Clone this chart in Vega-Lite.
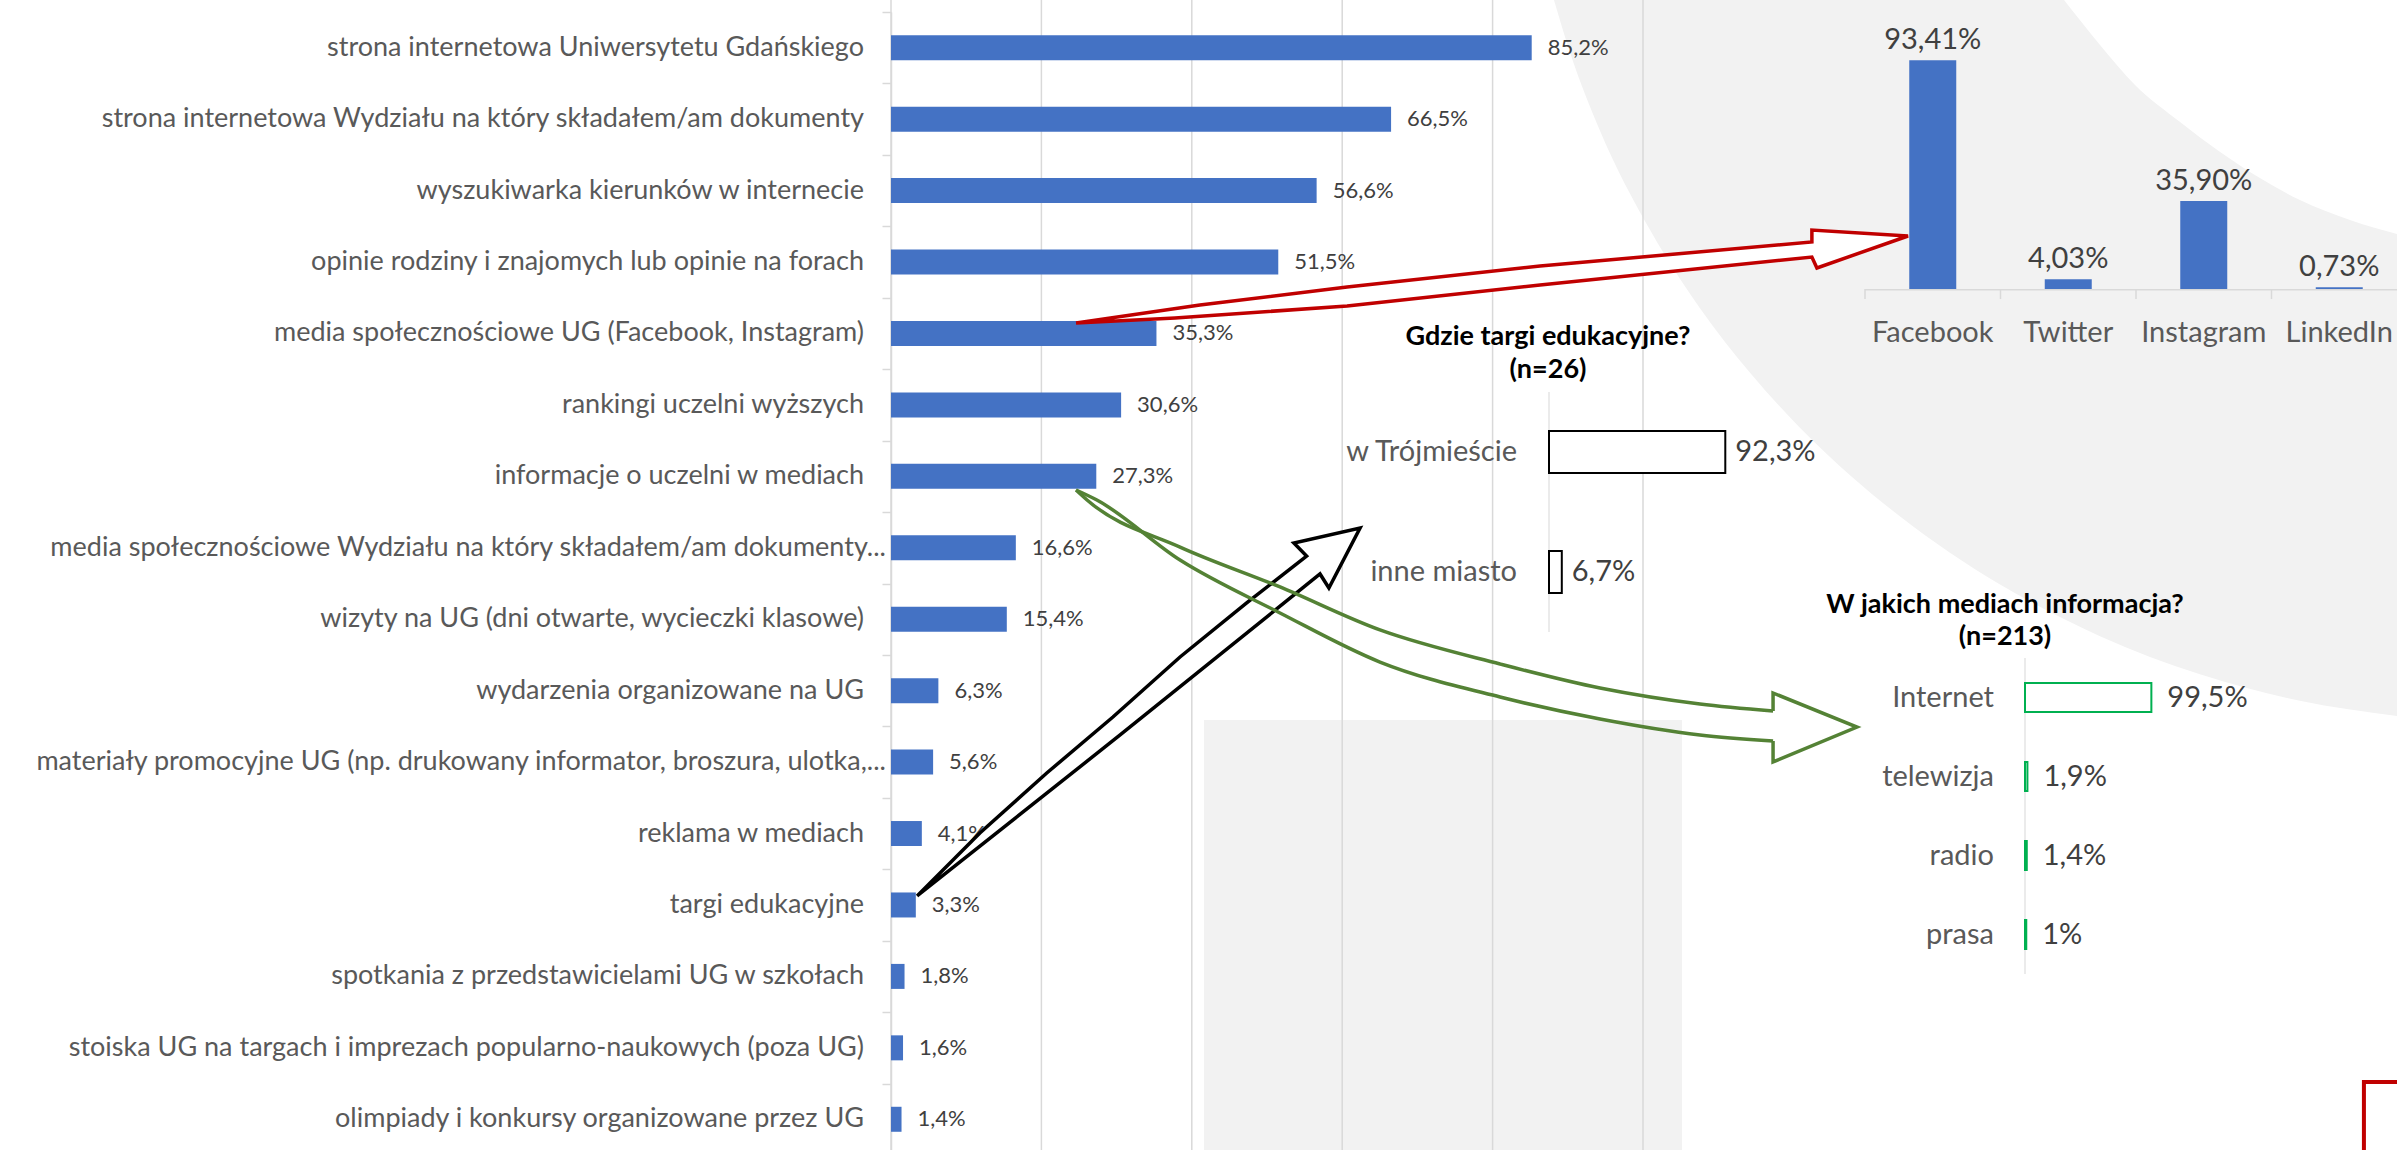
{
  "$schema": "https://vega.github.io/schema/vega-lite/v6.json",
  "description": "Źródła informacji o UG - wykres z wstawkami",
  "width": 2397,
  "height": 1150,
  "autosize": {"type": "none"},
  "padding": 0,
  "background": "white",
  "config": {
    "view": {"stroke": null},
    "locale": {"number": {"decimal": ",", "thousands": " ", "grouping": [3], "currency": ["", " zł"]}}
  },
  "datasets": {
    "main": [
      {"k": "strona internetowa Uniwersytetu Gdańskiego", "v": 0.852},
      {"k": "strona internetowa Wydziału na który składałem/am dokumenty", "v": 0.665},
      {"k": "wyszukiwarka kierunków w internecie", "v": 0.566},
      {"k": "opinie rodziny i znajomych lub opinie na forach", "v": 0.515},
      {"k": "media społecznościowe UG (Facebook, Instagram)", "v": 0.353},
      {"k": "rankingi uczelni wyższych", "v": 0.306},
      {"k": "informacje o uczelni w mediach", "v": 0.273},
      {"k": "media społecznościowe Wydziału na który składałem/am dokumenty...", "v": 0.166},
      {"k": "wizyty na UG (dni otwarte, wycieczki klasowe)", "v": 0.154},
      {"k": "wydarzenia organizowane na UG", "v": 0.063},
      {"k": "materiały promocyjne UG (np. drukowany informator, broszura, ulotka,...", "v": 0.056},
      {"k": "reklama w mediach", "v": 0.041},
      {"k": "targi edukacyjne", "v": 0.033},
      {"k": "spotkania z przedstawicielami UG w szkołach", "v": 0.018},
      {"k": "stoiska UG na targach i imprezach popularno-naukowych (poza UG)", "v": 0.016},
      {"k": "olimpiady i konkursy organizowane przez UG", "v": 0.014}
    ],
    "grid": [{"g": 0}, {"g": 0.2}, {"g": 0.4}, {"g": 0.6}, {"g": 0.8}, {"g": 1}],
    "social": [
      {"p": "Facebook", "v": 0.9341},
      {"p": "Twitter", "v": 0.0403},
      {"p": "Instagram", "v": 0.359},
      {"p": "LinkedIn", "v": 0.0073}
    ],
    "targi": [
      {"c": "w Trójmieście", "v": 0.923},
      {"c": "inne miasto", "v": 0.067}
    ],
    "media": [
      {"m": "Internet", "v": 0.995},
      {"m": "telewizja", "v": 0.019},
      {"m": "radio", "v": 0.014},
      {"m": "prasa", "v": 0.01}
    ],
    "circle": [
      {"x": 64.83, "y": 0}, {"x": 65.5, "y": 4.57}, {"x": 66.75, "y": 11.37},
      {"x": 68.84, "y": 20.01}, {"x": 70.92, "y": 26.8}, {"x": 73.01, "y": 32.42},
      {"x": 75.09, "y": 37.19}, {"x": 77.18, "y": 41.32}, {"x": 79.27, "y": 44.91},
      {"x": 81.35, "y": 48.06}, {"x": 83.44, "y": 50.82}, {"x": 87.61, "y": 55.32},
      {"x": 91.78, "y": 58.64}, {"x": 95.95, "y": 60.94}, {"x": 100, "y": 62.26}
    ],
    "inner": [
      {"x": 86.11, "y": 0}, {"x": 87.61, "y": 3.91}, {"x": 89.07, "y": 7.39},
      {"x": 90.95, "y": 10.61}, {"x": 92.62, "y": 13.22}, {"x": 94.28, "y": 15.48},
      {"x": 95.95, "y": 17.39}, {"x": 98.04, "y": 19.13}, {"x": 100, "y": 20.35}
    ],
    "arrows": [
      {"a": "red", "i": 0, "x": 44.89, "y": 28.09},
      {"a": "red", "i": 1, "x": 50.06, "y": 26.52},
      {"a": "red", "i": 2, "x": 56.2, "y": 24.96},
      {"a": "red", "i": 3, "x": 64.25, "y": 23.13},
      {"a": "red", "i": 4, "x": 75.59, "y": 21.04},
      {"a": "red", "i": 5, "x": 75.59, "y": 20.0},
      {"a": "red", "i": 6, "x": 79.6, "y": 20.52},
      {"a": "red", "i": 7, "x": 75.8, "y": 23.3},
      {"a": "red", "i": 8, "x": 75.59, "y": 22.35},
      {"a": "red", "i": 9, "x": 64.25, "y": 24.78},
      {"a": "red", "i": 10, "x": 56.2, "y": 26.61},
      {"a": "red", "i": 11, "x": 49.02, "y": 27.65},
      {"a": "red", "i": 12, "x": 44.89, "y": 28.09},
      {"a": "black", "i": 0, "x": 38.26, "y": 77.91},
      {"a": "black", "i": 1, "x": 40.88, "y": 72.43},
      {"a": "black", "i": 2, "x": 43.67, "y": 67.22},
      {"a": "black", "i": 3, "x": 46.43, "y": 62.35},
      {"a": "black", "i": 4, "x": 49.23, "y": 57.13},
      {"a": "black", "i": 5, "x": 52.01, "y": 52.43},
      {"a": "black", "i": 6, "x": 54.51, "y": 48.35},
      {"a": "black", "i": 7, "x": 53.98, "y": 47.22},
      {"a": "black", "i": 8, "x": 56.74, "y": 45.91},
      {"a": "black", "i": 9, "x": 55.44, "y": 51.13},
      {"a": "black", "i": 10, "x": 55.07, "y": 49.91},
      {"a": "black", "i": 11, "x": 46.73, "y": 63.91},
      {"a": "black", "i": 12, "x": 38.26, "y": 77.91},
      {"a": "gu", "i": 0, "x": 44.89, "y": 42.61},
      {"a": "gu", "i": 1, "x": 45.35, "y": 43.48},
      {"a": "gu", "i": 2, "x": 49.23, "y": 47.57},
      {"a": "gu", "i": 3, "x": 53.4, "y": 51.04},
      {"a": "gu", "i": 4, "x": 57.57, "y": 54.78},
      {"a": "gu", "i": 5, "x": 62.58, "y": 57.74},
      {"a": "gu", "i": 6, "x": 66.75, "y": 59.83},
      {"a": "gu", "i": 7, "x": 70.92, "y": 61.22},
      {"a": "gu", "i": 8, "x": 73.97, "y": 61.83},
      {"a": "gl", "i": 0, "x": 44.89, "y": 42.61},
      {"a": "gl", "i": 1, "x": 45.76, "y": 43.48},
      {"a": "gl", "i": 2, "x": 49.23, "y": 48.7},
      {"a": "gl", "i": 3, "x": 53.4, "y": 53.3},
      {"a": "gl", "i": 4, "x": 57.57, "y": 57.57},
      {"a": "gl", "i": 5, "x": 62.58, "y": 60.61},
      {"a": "gl", "i": 6, "x": 66.75, "y": 62.52},
      {"a": "gl", "i": 7, "x": 70.92, "y": 63.91},
      {"a": "gl", "i": 8, "x": 73.97, "y": 64.43},
      {"a": "gh", "i": 0, "x": 73.97, "y": 61.83},
      {"a": "gh", "i": 1, "x": 73.97, "y": 60.26},
      {"a": "gh", "i": 2, "x": 77.47, "y": 63.22},
      {"a": "gh", "i": 3, "x": 73.97, "y": 66.26},
      {"a": "gh", "i": 4, "x": 73.97, "y": 64.43}
    ]
  },
  "layer": [
    {
      "layer": [
        {
          "data": {"name": "circle"},
          "mark": {"type": "area", "color": "#f2f2f2", "interpolate": "monotone"},
          "encoding": {
            "x": {"field": "x", "type": "quantitative", "scale": {"domain": [0, 100], "range": [0, 2397], "nice": false, "zero": false}, "axis": null},
            "y": {"field": "y", "type": "quantitative", "scale": {"domain": [0, 100], "range": [0, 1150], "nice": false, "zero": false}, "axis": null},
            "y2": {"datum": 0}
          }
        },
        {
          "data": {"name": "inner"},
          "mark": {"type": "area", "color": "white", "interpolate": "monotone"},
          "encoding": {
            "x": {"field": "x", "type": "quantitative", "axis": null},
            "y": {"field": "y", "type": "quantitative", "axis": null},
            "y2": {"datum": 0}
          }
        },
        {
          "data": {"values": [{"x": 50.23, "x2": 70.17, "y": 62.61, "y2": 105}]},
          "mark": {"type": "rect", "color": "#f2f2f2"},
          "encoding": {
            "x": {"field": "x", "type": "quantitative", "axis": null},
            "x2": {"field": "x2"},
            "y": {"field": "y", "type": "quantitative", "axis": null},
            "y2": {"field": "y2"}
          }
        }
      ]
    },
    {
      "data": {"name": "main"},
      "layer": [
        {
          "data": {"name": "grid"},
          "mark": {"type": "rule", "color": "#d9d9d9", "strokeWidth": 1.5},
          "encoding": {
            "x": {"field": "g", "type": "quantitative", "scale": {"domain": [0, 1], "range": [891, 1643], "nice": false}, "axis": null}
          }
        },
        {
          "mark": {"type": "bar", "color": "#4472c4", "size": 25},
          "encoding": {
            "y": {
              "field": "k", "type": "nominal", "sort": null,
              "scale": {"range": [12, 1155], "paddingInner": 0, "paddingOuter": 0},
              "axis": {
                "title": null, "orient": "left", "offset": -891, "labels": false,
                "tickSize": 9, "tickColor": "#d9d9d9", "tickWidth": 1.5, "tickBand": "extent",
                "domainColor": "#d9d9d9", "domainWidth": 1.5, "grid": false
              }
            },
            "x": {"field": "v", "type": "quantitative", "axis": null}
          }
        },
        {
          "transform": [{"filter": "indexof(datum.k, '...') < 0"}],
          "mark": {"type": "text", "align": "right", "baseline": "middle", "dx": -27, "font": "Lato", "fontSize": 27, "color": "#595959"},
          "encoding": {
            "y": {"field": "k", "type": "nominal", "sort": null},
            "x": {"datum": 0, "type": "quantitative"},
            "text": {"field": "k", "type": "nominal"}
          }
        },
        {
          "transform": [{"filter": "indexof(datum.k, '...') > 0"}],
          "mark": {"type": "text", "align": "right", "baseline": "middle", "dx": -5, "font": "Lato", "fontSize": 27, "color": "#595959"},
          "encoding": {
            "y": {"field": "k", "type": "nominal", "sort": null},
            "x": {"datum": 0, "type": "quantitative"},
            "text": {"field": "k", "type": "nominal"}
          }
        },
        {
          "mark": {"type": "text", "align": "left", "baseline": "middle", "dx": 16, "font": "Lato", "fontSize": 22, "color": "#404040"},
          "encoding": {
            "y": {"field": "k", "type": "nominal", "sort": null},
            "x": {"field": "v", "type": "quantitative"},
            "text": {"field": "v", "type": "quantitative", "format": ".1%"}
          }
        }
      ]
    },
    {
      "data": {"name": "social"},
      "layer": [
        {
          "mark": {"type": "rect", "color": "#d9d9d9"},
          "encoding": {
            "x": {"field": "p", "type": "nominal", "sort": null, "scale": {"domain": ["Facebook", "Twitter", "Instagram", "LinkedIn"], "range": [1865, 2407], "paddingInner": 0, "paddingOuter": 0}, "axis": null},
            "y": {"datum": 0, "type": "quantitative", "scale": {"domain": [0, 1], "range": [289, 44], "nice": false}, "axis": null},
            "y2": {"datum": -0.006}
          }
        },
        {
          "mark": {"type": "rule", "color": "#d9d9d9", "strokeWidth": 1.5},
          "encoding": {
            "x": {"field": "p", "type": "nominal", "sort": null, "bandPosition": 0},
            "y": {"datum": 0, "type": "quantitative"},
            "y2": {"datum": -0.041}
          }
        },
        {
          "mark": {"type": "bar", "color": "#4472c4", "size": 47},
          "encoding": {
            "x": {"field": "p", "type": "nominal", "sort": null},
            "y": {"field": "v", "type": "quantitative"}
          }
        },
        {
          "mark": {"type": "text", "baseline": "alphabetic", "dy": -11, "font": "Lato", "fontSize": 29, "color": "#404040"},
          "encoding": {
            "x": {"field": "p", "type": "nominal", "sort": null},
            "y": {"field": "v", "type": "quantitative"},
            "text": {"field": "v", "type": "quantitative", "format": ".2%"}
          }
        },
        {
          "mark": {"type": "text", "baseline": "alphabetic", "dy": 53, "font": "Lato", "fontSize": 29, "color": "#595959"},
          "encoding": {
            "x": {"field": "p", "type": "nominal", "sort": null},
            "y": {"datum": 0, "type": "quantitative"},
            "text": {"field": "p", "type": "nominal"}
          }
        }
      ]
    },
    {
      "data": {"name": "targi"},
      "layer": [
        {
          "mark": {"type": "tick", "color": "#d9d9d9", "thickness": 1.5, "size": 120},
          "encoding": {
            "y": {"field": "c", "type": "nominal", "sort": null, "scale": {"domain": ["w Trójmieście", "inne miasto"], "range": [392, 632], "paddingInner": 0, "paddingOuter": 0}, "axis": null},
            "x": {"datum": 0, "type": "quantitative", "scale": {"domain": [0, 1], "range": [1549, 1740], "nice": false}, "axis": null}
          }
        },
        {
          "mark": {"type": "bar", "fill": "white", "stroke": "black", "strokeWidth": 2, "size": 42},
          "encoding": {
            "y": {"field": "c", "type": "nominal", "sort": null},
            "x": {"field": "v", "type": "quantitative"}
          }
        },
        {
          "mark": {"type": "text", "align": "right", "baseline": "middle", "dx": -32, "font": "Lato", "fontSize": 29, "color": "#595959"},
          "encoding": {
            "y": {"field": "c", "type": "nominal", "sort": null},
            "x": {"datum": 0, "type": "quantitative"},
            "text": {"field": "c", "type": "nominal"}
          }
        },
        {
          "mark": {"type": "text", "align": "left", "baseline": "middle", "dx": 10, "font": "Lato", "fontSize": 29, "color": "#404040"},
          "encoding": {
            "y": {"field": "c", "type": "nominal", "sort": null},
            "x": {"field": "v", "type": "quantitative"},
            "text": {"field": "v", "type": "quantitative", "format": ".1%"}
          }
        },
        {
          "data": {"values": [{}]},
          "mark": {"type": "text", "text": ["Gdzie targi edukacyjne?", "(n=26)"], "align": "center", "baseline": "alphabetic", "lineHeight": 33, "dx": -1, "dy": -107, "font": "Lato", "fontSize": 27, "fontWeight": "bold", "color": "black"},
          "encoding": {
            "y": {"datum": "w Trójmieście", "type": "nominal"},
            "x": {"datum": 0, "type": "quantitative"}
          }
        }
      ]
    },
    {
      "data": {"name": "media"},
      "layer": [
        {
          "mark": {"type": "tick", "color": "#d9d9d9", "thickness": 1.5, "size": 79},
          "encoding": {
            "y": {"field": "m", "type": "nominal", "sort": null, "scale": {"domain": ["Internet", "telewizja", "radio", "prasa"], "range": [658, 974], "paddingInner": 0, "paddingOuter": 0}, "axis": null},
            "x": {"datum": 0, "type": "quantitative", "scale": {"domain": [0, 1], "range": [2025, 2152], "nice": false}, "axis": null}
          }
        },
        {
          "mark": {"type": "bar", "fill": "white", "stroke": "#00b050", "strokeWidth": 2, "size": 29},
          "encoding": {
            "y": {"field": "m", "type": "nominal", "sort": null},
            "x": {"field": "v", "type": "quantitative"}
          }
        },
        {
          "mark": {"type": "text", "align": "right", "baseline": "middle", "dx": -31, "font": "Lato", "fontSize": 29, "color": "#595959"},
          "encoding": {
            "y": {"field": "m", "type": "nominal", "sort": null},
            "x": {"datum": 0, "type": "quantitative"},
            "text": {"field": "m", "type": "nominal"}
          }
        },
        {
          "mark": {"type": "text", "align": "left", "baseline": "middle", "dx": 16, "font": "Lato", "fontSize": 29, "color": "#404040"},
          "encoding": {
            "y": {"field": "m", "type": "nominal", "sort": null},
            "x": {"field": "v", "type": "quantitative"},
            "text": {"field": "v", "type": "quantitative", "format": ".1~%"}
          }
        },
        {
          "data": {"values": [{}]},
          "mark": {"type": "text", "text": ["W jakich mediach informacja?", "(n=213)"], "align": "center", "baseline": "alphabetic", "lineHeight": 32, "dx": -20, "dy": -85, "font": "Lato", "fontSize": 27, "fontWeight": "bold", "color": "black"},
          "encoding": {
            "y": {"datum": "Internet", "type": "nominal"},
            "x": {"datum": 0, "type": "quantitative"}
          }
        }
      ]
    },
    {
      "data": {"name": "arrows"},
      "layer": [
        {
          "data": {"values": [{"x": 98.62, "x2": 110, "y": 94.09, "y2": 110}]},
          "mark": {"type": "rect", "filled": false, "stroke": "#c00000", "strokeWidth": 4},
          "encoding": {
            "x": {"field": "x", "type": "quantitative", "scale": {"domain": [0, 100], "range": [0, 2397], "nice": false, "zero": false}, "axis": null},
            "x2": {"field": "x2"},
            "y": {"field": "y", "type": "quantitative", "scale": {"domain": [0, 100], "range": [0, 1150], "nice": false, "zero": false}, "axis": null},
            "y2": {"field": "y2"}
          }
        },
        {
          "transform": [{"filter": "datum.a == 'black'"}],
          "mark": {"type": "line", "stroke": "black", "strokeWidth": 3.5, "fill": "white", "strokeJoin": "miter"},
          "encoding": {
            "x": {"field": "x", "type": "quantitative", "axis": null},
            "y": {"field": "y", "type": "quantitative", "axis": null},
            "order": {"field": "i", "type": "quantitative"}
          }
        },
        {
          "transform": [{"filter": "datum.a == 'red'"}],
          "mark": {"type": "line", "stroke": "#c00000", "strokeWidth": 3.5, "fill": "white", "strokeJoin": "miter"},
          "encoding": {
            "x": {"field": "x", "type": "quantitative", "axis": null},
            "y": {"field": "y", "type": "quantitative", "axis": null},
            "order": {"field": "i", "type": "quantitative"}
          }
        },
        {
          "transform": [{"filter": "datum.a == 'gu' || datum.a == 'gl'"}],
          "mark": {"type": "line", "stroke": "#548235", "strokeWidth": 3.5, "interpolate": "monotone"},
          "encoding": {
            "x": {"field": "x", "type": "quantitative", "axis": null},
            "y": {"field": "y", "type": "quantitative", "axis": null},
            "detail": {"field": "a", "type": "nominal"},
            "order": {"field": "i", "type": "quantitative"}
          }
        },
        {
          "transform": [{"filter": "datum.a == 'gh'"}],
          "mark": {"type": "line", "stroke": "#548235", "strokeWidth": 3.5, "strokeJoin": "miter"},
          "encoding": {
            "x": {"field": "x", "type": "quantitative", "axis": null},
            "y": {"field": "y", "type": "quantitative", "axis": null},
            "order": {"field": "i", "type": "quantitative"}
          }
        }
      ]
    }
  ],
  "resolve": {"scale": {"x": "independent", "y": "independent"}}
}
